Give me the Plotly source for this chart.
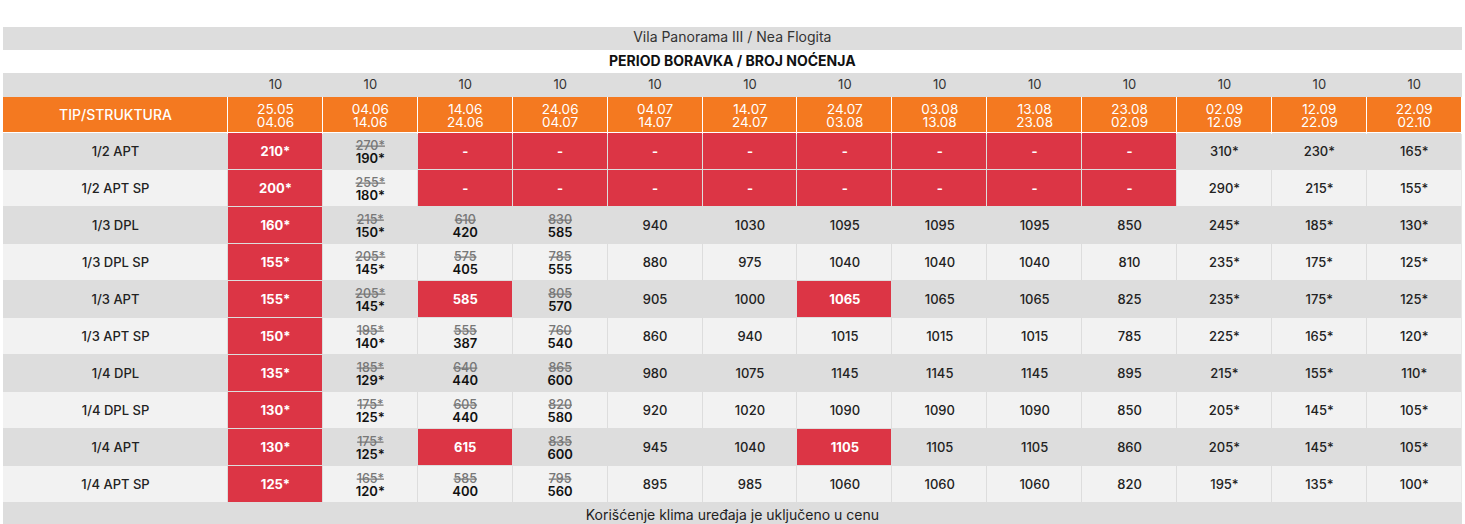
import plotly.graph_objects as go

# ---- data ----
title = "Vila Panorama III / Nea Flogita"
subtitle = "PERIOD BORAVKA / BROJ NOĆENJA"
footer = "Korišćenje klima uređaja je uključeno u cenu"
corner = "TIP/STRUKTURA"

room_types = ["1/2 APT", "1/2 APT SP", "1/3 DPL", "1/3 DPL SP", "1/3 APT",
              "1/3 APT SP", "1/4 DPL", "1/4 DPL SP", "1/4 APT", "1/4 APT SP"]

period_from = ["25.05", "04.06", "14.06", "24.06", "04.07", "14.07", "24.07",
               "03.08", "13.08", "23.08", "02.09", "12.09", "22.09"]
period_to = ["04.06", "14.06", "24.06", "04.07", "14.07", "24.07", "03.08",
             "13.08", "23.08", "02.09", "12.09", "22.09", "02.10"]
nights = [10, 10, 10, 10, 10, 10, 10, 10, 10, 10, 10, 10, 10]

prices = [
    ["210*", "190*", "-", "-", "-", "-", "-", "-", "-", "-", "310*", "230*", "165*"],
    ["200*", "180*", "-", "-", "-", "-", "-", "-", "-", "-", "290*", "215*", "155*"],
    ["160*", "150*", "420", "585", "940", "1030", "1095", "1095", "1095", "850", "245*", "185*", "130*"],
    ["155*", "145*", "405", "555", "880", "975", "1040", "1040", "1040", "810", "235*", "175*", "125*"],
    ["155*", "145*", "585", "570", "905", "1000", "1065", "1065", "1065", "825", "235*", "175*", "125*"],
    ["150*", "140*", "387", "540", "860", "940", "1015", "1015", "1015", "785", "225*", "165*", "120*"],
    ["135*", "129*", "440", "600", "980", "1075", "1145", "1145", "1145", "895", "215*", "155*", "110*"],
    ["130*", "125*", "440", "580", "920", "1020", "1090", "1090", "1090", "850", "205*", "145*", "105*"],
    ["130*", "125*", "615", "600", "945", "1040", "1105", "1105", "1105", "860", "205*", "145*", "105*"],
    ["125*", "120*", "400", "560", "895", "985", "1060", "1060", "1060", "820", "195*", "135*", "100*"],
]

# struck-through former prices (None = no former price)
old_prices = [
    [None, "270*", None, None, None, None, None, None, None, None, None, None, None],
    [None, "255*", None, None, None, None, None, None, None, None, None, None, None],
    [None, "215*", "610", "830", None, None, None, None, None, None, None, None, None],
    [None, "205*", "575", "785", None, None, None, None, None, None, None, None, None],
    [None, "205*", None, "805", None, None, None, None, None, None, None, None, None],
    [None, "195*", "555", "760", None, None, None, None, None, None, None, None, None],
    [None, "185*", "640", "865", None, None, None, None, None, None, None, None, None],
    [None, "175*", "605", "820", None, None, None, None, None, None, None, None, None],
    [None, "175*", None, "835", None, None, None, None, None, None, None, None, None],
    [None, "165*", "585", "795", None, None, None, None, None, None, None, None, None],
]

# red highlighted cells
highlight = [
    [1, 0, 1, 1, 1, 1, 1, 1, 1, 1, 0, 0, 0],
    [1, 0, 1, 1, 1, 1, 1, 1, 1, 1, 0, 0, 0],
    [1, 0, 0, 0, 0, 0, 0, 0, 0, 0, 0, 0, 0],
    [1, 0, 0, 0, 0, 0, 0, 0, 0, 0, 0, 0, 0],
    [1, 0, 1, 0, 0, 0, 1, 0, 0, 0, 0, 0, 0],
    [1, 0, 0, 0, 0, 0, 0, 0, 0, 0, 0, 0, 0],
    [1, 0, 0, 0, 0, 0, 0, 0, 0, 0, 0, 0, 0],
    [1, 0, 0, 0, 0, 0, 0, 0, 0, 0, 0, 0, 0],
    [1, 0, 1, 0, 0, 0, 1, 0, 0, 0, 0, 0, 0],
    [1, 0, 0, 0, 0, 0, 0, 0, 0, 0, 0, 0, 0],
]

# ---- layout constants (pixels) ----
W, H = 1465, 524
X0, LABEL_W, COL_W = 3, 225, 94.9
TOP = 27
TITLE_H, SUB_H, NIGHTS_H, HEAD_H, ROW_H, FOOT_H = 23, 23, 24, 36, 37, 25
NUDGE = 1.5  # plotly puts text centres a little high

DARK, LIGHT, RED, ORANGE, WHITE = "#dddddd", "#f2f2f2", "#dc3545", "#f47920", "#ffffff"
# z: 0 dark, 1 light, 2 red, 3 orange, 4 white
colorscale = [[0, DARK], [0.125, DARK], [0.125, LIGHT], [0.375, LIGHT],
              [0.375, RED], [0.625, RED], [0.625, ORANGE], [0.875, ORANGE],
              [0.875, WHITE], [1, WHITE]]
FONT = "Inter, Roboto, sans-serif"

ncol = len(period_from)
x_edges = [X0, X0 + LABEL_W] + [X0 + LABEL_W + COL_W * (i + 1) for i in range(ncol)]
x_mid = [(x_edges[i] + x_edges[i + 1]) / 2 for i in range(len(x_edges) - 1)]
x_right = x_edges[-1]
x_center = (X0 + x_right) / 2

y_title = TOP
y_sub = y_title + TITLE_H
y_nights = y_sub + SUB_H
y_head = y_nights + NIGHTS_H
y_body = y_head + HEAD_H
body_edges = [y_body + ROW_H * i for i in range(len(room_types) + 1)]
y_foot = body_edges[-1]
row_mid = [(body_edges[i] + body_edges[i + 1]) / 2 + NUDGE for i in range(len(room_types))]

fig = go.Figure()

# full-width bands: title, subtitle, nights, (gap), footer
fig.add_trace(go.Heatmap(
    x=[X0, x_right], y=[y_title, y_sub, y_nights, y_head, y_foot, y_foot + FOOT_H],
    z=[[0], [4], [0], [None], [0]],
    zmin=0, zmax=4, colorscale=colorscale, showscale=False, hoverinfo="skip"))

# orange header row
fig.add_trace(go.Heatmap(
    x=x_edges, y=[y_head, y_body], z=[[3] * (ncol + 1)],
    zmin=0, zmax=4, colorscale=colorscale, showscale=False, hoverinfo="skip",
    xgap=1, ygap=1))

# body cells
body_z = []
for r in range(len(room_types)):
    base = 0 if r % 2 == 0 else 1
    body_z.append([base] + [2 if highlight[r][c] else base for c in range(ncol)])
fig.add_trace(go.Heatmap(
    x=x_edges, y=body_edges, z=body_z,
    zmin=0, zmax=4, colorscale=colorscale, showscale=False, hoverinfo="skip",
    xgap=1, ygap=1))

# grey grid behind body cells
fig.add_shape(type="rect", x0=X0, x1=x_right, y0=y_body + 1, y1=y_foot,
              fillcolor=DARK, line_width=0, layer="below")


def add_text(xs, ys, texts, size=13, color="#222", weight=400, line=None):
    font = dict(family=FONT, size=size, color=color, weight=weight)
    if line:
        font["lineposition"] = line
    fig.add_trace(go.Scatter(x=xs, y=ys, text=texts, mode="text", textfont=font,
                             hoverinfo="skip", showlegend=False, cliponaxis=False))


add_text([x_center], [y_title + TITLE_H / 2], [title], size=14, color="#333")
add_text([x_center], [y_sub + SUB_H / 2 + 0.5], [subtitle], size=14, color="#111", weight=700)
add_text(x_mid[1:], [y_nights + NIGHTS_H / 2 + 1] * ncol, [str(n) for n in nights], color="#333")
head_mid = y_head + HEAD_H / 2
add_text([x_mid[0]], [head_mid + NUDGE], [corner], size=14, color="white", weight=500)
add_text(x_mid[1:], [head_mid - 4.5] * ncol, period_from, size=13.5, color="white")
add_text(x_mid[1:], [head_mid + 9] * ncol, period_to, size=13.5, color="white")
add_text([x_mid[0]] * len(room_types), row_mid, room_types, color="#222", weight=500)

plain_x, plain_y, plain_t = [], [], []
red_x, red_y, red_t = [], [], []
old_x, old_y, old_t = [], [], []
new_x, new_y, new_t = [], [], []
for r in range(len(room_types)):
    for c in range(ncol):
        xm, ym = x_mid[c + 1], row_mid[r]
        if highlight[r][c]:
            red_x.append(xm); red_y.append(ym); red_t.append(prices[r][c])
        elif old_prices[r][c]:
            old_x.append(xm); old_y.append(ym - 6); old_t.append(old_prices[r][c])
            new_x.append(xm); new_y.append(ym + 6.5); new_t.append(prices[r][c])
        else:
            plain_x.append(xm); plain_y.append(ym); plain_t.append(prices[r][c])

add_text(plain_x, plain_y, plain_t, color="#222", weight=500)
add_text(red_x, red_y, red_t, color="white", weight=700)
add_text(old_x, old_y, old_t, size=12.5, color="#777", weight=500, line="through")
add_text(new_x, new_y, new_t, color="#111", weight=600)

add_text([x_center], [y_foot + 13], [footer], size=14, color="#222")

fig.update_layout(
    width=W, height=H,
    margin=dict(l=0, r=0, t=0, b=0),
    paper_bgcolor="white", plot_bgcolor="white",
    xaxis=dict(range=[0, W], visible=False, fixedrange=True),
    yaxis=dict(range=[H, 0], visible=False, fixedrange=True),
)

# remove the default page margin so the figure sits at the window's corner
fig.write_html("out.html", config={"displayModeBar": False},
               post_script="document.body.style.margin='0';document.body.style.overflow='hidden';")
